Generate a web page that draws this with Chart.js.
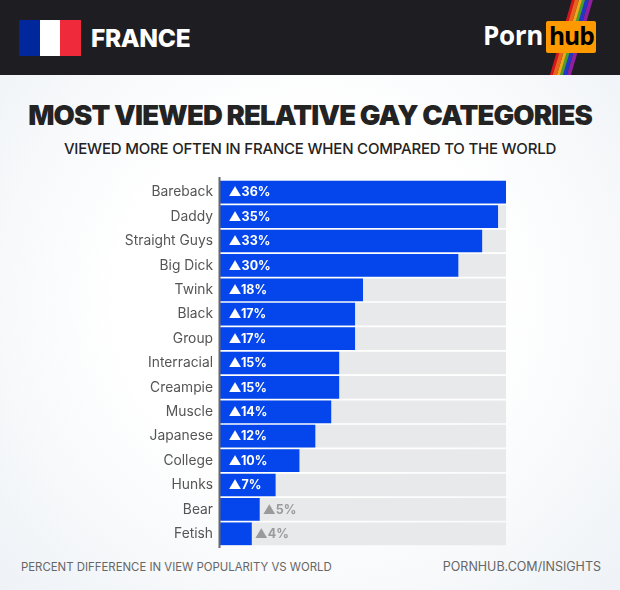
<!DOCTYPE html>
<html><head><meta charset="utf-8">
<script src="https://cdn.jsdelivr.net/npm/chart.js@4"></script>
<style>
html,body{margin:0;padding:0;width:620px;height:590px;overflow:hidden}
#page{position:relative;width:620px;height:590px;overflow:hidden;background:radial-gradient(ellipse 430px 420px at 310px 300px,#ffffff 45%,#eef2f6 100%);font-family:Inter,sans-serif}
#page div{position:absolute;white-space:nowrap}
#head{left:0;top:0;width:620px;height:75px;background:#1e1d22;overflow:hidden}
.st{top:-5px;height:90px;width:3.6px;transform:skewX(-16.3deg);transform-origin:0 100%}
#chart{position:absolute;left:0;top:0}
</style></head><body>
<div id="page">
<div id="head">
 <div class="st" style="left:547px;background:#d2161c"></div>
 <div class="st" style="left:550.3px;background:#e8641c"></div>
 <div class="st" style="left:553.6px;background:#eda81b"></div>
 <div class="st" style="left:556.9px;background:#4d9c2a"></div>
 <div class="st" style="left:560.2px;background:#2037c8"></div>
 <div class="st" style="left:563.5px;background:#8f1f9c"></div>
 <div style="left:19px;top:20px;width:21px;height:36px;background:#00279b"></div>
 <div style="left:40px;top:20px;width:20px;height:36px;background:#fff"></div>
 <div style="left:60px;top:20px;width:21px;height:36px;background:#ef2b3b"></div>
 <div style="left:91px;top:21px;font:800 24.5px/34px Inter,sans-serif;color:#fff;letter-spacing:-.35px">FRANCE</div>
 <div style="left:483px;top:17px;font:700 26px/36px 'Open Sans',sans-serif;color:#fff;letter-spacing:-.3px">Porn</div>
 <div style="left:546px;top:21px;width:50px;height:32px;border-radius:2px;background:#ff9900"></div>
 <div style="left:549px;top:17px;font:700 24.5px/38px 'Open Sans',sans-serif;color:#000;letter-spacing:-1px">hub</div>
</div>
<div style="left:0;width:620px;top:96px;text-align:center;font:900 27.5px/38px Inter,sans-serif;color:#232323;letter-spacing:-.88px">MOST VIEWED RELATIVE GAY CATEGORIES</div>
<div style="left:0;width:620px;top:139px;text-align:center;font:500 15px/20px Inter,sans-serif;color:#232323;letter-spacing:-.2px">VIEWED MORE OFTEN IN FRANCE WHEN COMPARED TO THE WORLD</div>
<div style="left:21px;top:559px;font:400 11.4px/16px Inter,sans-serif;color:#666">PERCENT DIFFERENCE IN VIEW POPULARITY VS WORLD</div>
<div style="right:19px;top:558px;font:400 12.5px/17px Inter,sans-serif;color:#666">PORNHUB.COM/INSIGHTS</div>
<canvas id="chart" width="620" height="590"></canvas>
</div>
<script>
const categories = ["Bareback","Daddy","Straight Guys","Big Dick","Twink","Black","Group","Interracial","Creampie","Muscle","Japanese","College","Hunks","Bear","Fetish"];
const percentValues = [36,35,33,30,18,17,17,15,15,14,12,10,7,5,4];
const trackValues = [36,36,36,36,36,36,36,36,36,36,36,36,36,36,36];
const axisMax = 36;
const insideMin = 7;

const extras = {
  id:'extras',
  afterDatasetsDraw(c){
    const g=c.ctx,a=c.chartArea,x=c.scales.x,y=c.scales.y;
    g.save();
    g.fillStyle='#68686a';
    g.fillRect(a.left-1.5,a.top-3,2,a.bottom-a.top+5);
    g.font='700 12.5px Inter, sans-serif';
    g.textBaseline='middle';
    percentValues.forEach((v,i)=>{
      const inside=v>=insideMin;
      g.fillStyle=inside?'#ffffff':'#9a9a9a';
      const px=inside?a.left+8.5:x.getPixelForValue(v)+3;
      g.fillText('▲'+v+'%',px,y.getPixelForValue(i)+0.5);
    });
    g.restore();
  }
};
new Chart(document.getElementById('chart'),{
  type:'bar',
  data:{labels:categories,datasets:[
    {data:percentValues,backgroundColor:'#0546ec',order:1,barPercentage:.93,categoryPercentage:1,grouped:false},
    {data:trackValues,backgroundColor:'#e8e9eb',order:2,barPercentage:.93,categoryPercentage:1,grouped:false}
  ]},
  options:{
    indexAxis:'y',responsive:false,animation:false,
    layout:{padding:{left:0,right:114,top:180,bottom:44}},
    plugins:{legend:{display:false},tooltip:{enabled:false}},
    scales:{
      x:{display:false,min:0,max:axisMax},
      y:{
        afterFit(s){s.width=220},
        grid:{display:false,drawTicks:false},border:{display:false},
        ticks:{color:'#555555',font:{family:'Inter, sans-serif',size:13.8,weight:'400'},padding:7,autoSkip:false}
      }
    }
  },
  plugins:[extras]
});
</script>
</body></html>
